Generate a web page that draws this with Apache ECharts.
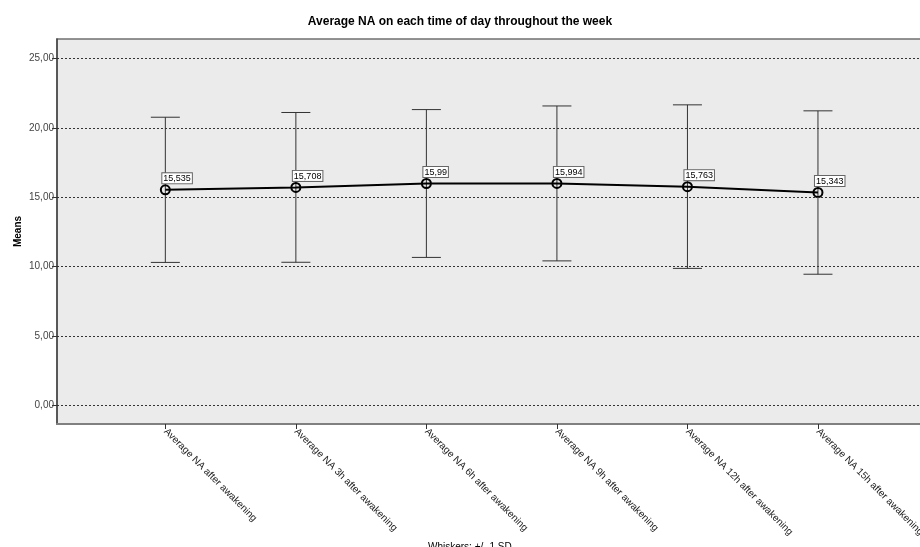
<!DOCTYPE html>
<html>
<head>
<meta charset="utf-8">
<script src="https://cdn.jsdelivr.net/npm/echarts@6/dist/echarts.min.js"></script>
<style>html,body{margin:0;padding:0;background:#fff}#c{width:920px;height:547px}</style>
</head>
<body>
<div id="c"></div>
<script>
const categories = ['Average NA after awakening','Average NA 3h after awakening','Average NA 6h after awakening','Average NA 9h after awakening','Average NA 12h after awakening','Average NA 15h after awakening'];
const means = [15.535, 15.708, 15.99, 15.994, 15.763, 15.343];
const meanLabels = ['15,535','15,708','15,99','15,994','15,763','15,343'];
const upper = [20.76, 21.10, 21.31, 21.57, 21.65, 21.22];
const lower = [10.31, 10.32, 10.67, 10.42, 9.88, 9.46];
const yTicks = [0, 5, 10, 15, 20, 25];
const xTicks = [0, 1, 2, 3, 4, 5];

const FONT = '"Liberation Sans", Arial, sans-serif';
const chart = echarts.init(document.getElementById('c'), null, {renderer: 'canvas'});
chart.setOption({
  animation: false,
  backgroundColor: '#fff',
  title: [
    {text: 'Average NA on each time of day throughout the week', left: 'center', top: 11,
     textStyle: {fontFamily: FONT, fontSize: 12, fontWeight: 'bold', color: '#000'}},
    {text: 'Whiskers: +/- 1 SD', left: 423, top: 537,
     textStyle: {fontFamily: FONT, fontSize: 10, fontWeight: 'normal', color: '#000'}}
  ],
  grid: {left: 57, top: 39, right: -5, bottom: 123, show: true, backgroundColor: '#EBEBEB',
         borderColor: '#707070', borderWidth: 1.5, containLabel: false, outerBoundsMode: 'none'},
  xAxis: {
    type: 'value', min: -0.83, max: 5.82,
    splitLine: {show: false},
    axisLine: {show: true, onZero: false, lineStyle: {color: '#808080', width: 2}},
    axisTick: {show: true, customValues: xTicks, length: 5, lineStyle: {color: '#333'}},
    axisLabel: {customValues: xTicks, rotate: -45, margin: 6, fontFamily: FONT, fontSize: 10, color: '#222',
                formatter: v => categories[Math.round(v)]}
  },
  yAxis: {
    type: 'value', min: -1.32, max: 26.39,
    name: 'Means', nameLocation: 'middle', nameGap: 34, nameRotate: 90, nameMoveOverlap: false,
    nameTextStyle: {fontFamily: FONT, fontSize: 10, fontWeight: 'bold', color: '#000'},
    splitLine: {show: false},
    axisLine: {show: true, onZero: false, lineStyle: {color: '#444', width: 1.5}},
    axisTick: {show: true, customValues: yTicks, length: 5, lineStyle: {color: '#333'}},
    axisLabel: {customValues: yTicks, margin: 3, fontFamily: FONT, fontSize: 10, color: '#444',
                formatter: v => v.toFixed(2).replace('.', ',')}
  },
  series: [
    {
      type: 'line', data: [], silent: true,
      markLine: {
        silent: true, symbol: ['none', 'none'], label: {show: false},
        lineStyle: {type: [2, 2], color: '#333', width: 1},
        data: yTicks.map(v => ({yAxis: v}))
      }
    },
    {
      type: 'custom', silent: true,
      data: xTicks.map(i => [i, lower[i], upper[i]]),
      renderItem: function (params, api) {
        const x = api.value(0);
        const top = api.coord([x, api.value(2)]);
        const bot = api.coord([x, api.value(1)]);
        const hw = 14.5;
        const st = {stroke: '#333', lineWidth: 1};
        return {type: 'group', children: [
          {type: 'line', shape: {x1: top[0], y1: top[1], x2: bot[0], y2: bot[1]}, style: st},
          {type: 'line', shape: {x1: top[0] - hw, y1: top[1], x2: top[0] + hw, y2: top[1]}, style: st},
          {type: 'line', shape: {x1: bot[0] - hw, y1: bot[1], x2: bot[0] + hw, y2: bot[1]}, style: st}
        ]};
      }
    },
    {
      type: 'line',
      data: means.map((v, i) => [i, v]),
      symbol: 'circle', symbolSize: 9,
      lineStyle: {color: '#000', width: 2},
      itemStyle: {color: 'rgba(0,0,0,0)', borderColor: '#000', borderWidth: 2},
      label: {
        show: true, position: 'top', distance: 1, align: 'left', offset: [-3, 0],
        formatter: p => meanLabels[p.dataIndex],
        fontFamily: FONT, fontSize: 9, color: '#000',
        backgroundColor: '#fff', borderColor: '#666', borderWidth: 1, padding: [1, 1, 0, 1]
      }
    }
  ]
});
</script>
</body>
</html>
